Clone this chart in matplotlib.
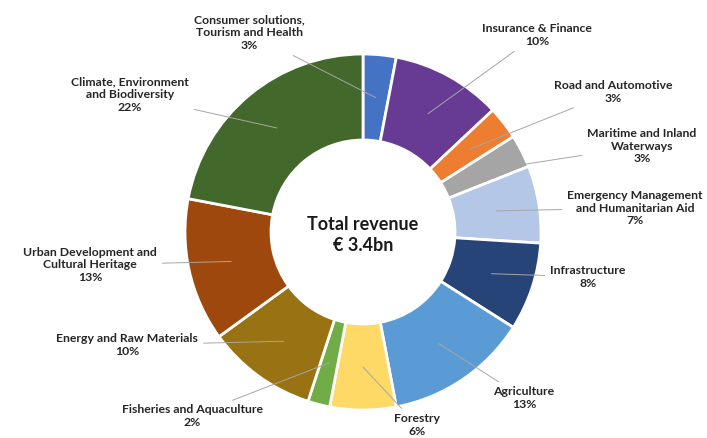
import numpy as np
import matplotlib.pyplot as plt

# данные
sectors = [
    "Consumer solutions,\nTourism and Health",
    "Insurance & Finance",
    "Road and Automotive",
    "Maritime and Inland\nWaterways",
    "Emergency Management\nand Humanitarian Aid",
    "Infrastructure",
    "Agriculture",
    "Forestry",
    "Fisheries and Aquaculture",
    "Energy and Raw Materials",
    "Urban Development and\nCultural Heritage",
    "Climate, Environment\nand Biodiversity",
]
shares = [3, 10, 3, 3, 7, 8, 13, 6, 2, 10, 13, 22]
total_label = "Total revenue\n€ 3.4bn"

colors = ["#4472C4", "#673A93", "#ED7D31", "#A5A5A5", "#B4C7E7", "#264478",
          "#5B9BD5", "#FFD966", "#70AD47", "#997313", "#9E480E", "#43682B"]

# положения подписей (в пикселях от верхнего левого угла)
label_pos = [(249, 33), (537, 35), (613, 92), (642, 146), (635, 208), (588, 277),
             (524, 398), (417, 425), (192, 416), (127, 345), (90, 265), (130, 95)]

W, H = 707, 438
cx, cy = 363, 232
R, ring = 178, 86

plt.rcParams['font.family'] = ['Lato', 'DejaVu Sans']

fig = plt.figure(figsize=(W / 100, H / 100), dpi=100)
ax = fig.add_axes([0, 0, 1, 1])

wedges, _ = ax.pie(shares, colors=colors, startangle=90, counterclock=False,
                   center=(cx, H - cy), radius=R,
                   wedgeprops=dict(width=ring, edgecolor='white', linewidth=2))

ax.set_xlim(0, W)
ax.set_ylim(0, H)
ax.set_aspect('equal')
ax.axis('off')

r_mid = R - ring / 2
for w, name, val, (lx, ly) in zip(wedges, sectors, shares, label_pos):
    ang = np.deg2rad((w.theta1 + w.theta2) / 2)
    px = cx + r_mid * np.cos(ang)
    py = (H - cy) + r_mid * np.sin(ang)
    ax.annotate(f"{name}\n{val}%", xy=(px, py), xytext=(lx, H - ly),
                ha='center', va='center', ma='center', fontsize=8.8,
                fontweight='bold', color='#262626', linespacing=1.22,
                arrowprops=dict(arrowstyle='-', color='#a6a6a6', lw=0.7,
                                shrinkA=2, shrinkB=0))

ax.text(cx, H - 235, total_label, ha='center', va='center', fontsize=13,
        fontweight='bold', color='#1a1a1a', linespacing=1.25)

fig.savefig("out.png", dpi=100)
